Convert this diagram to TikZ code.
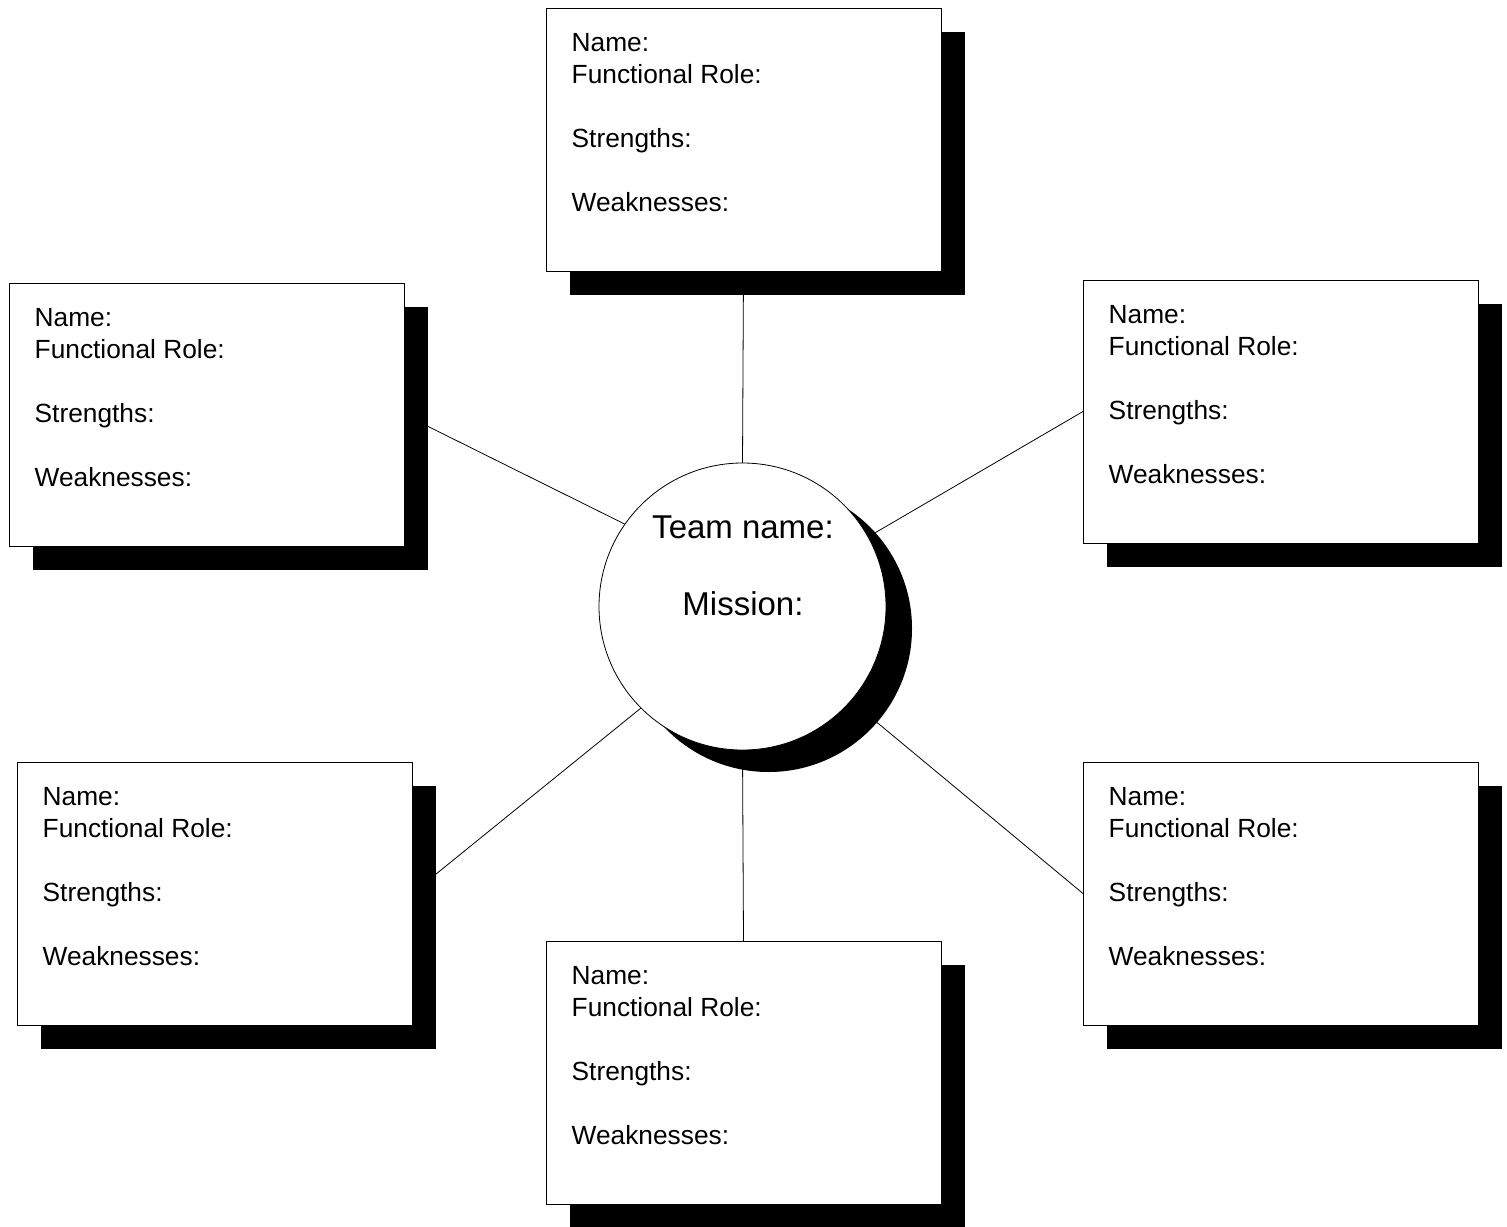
\documentclass[tikz,border=0pt]{standalone}
\usepackage{fontspec}
\setmainfont{Liberation Sans}
\usetikzlibrary{shadows,backgrounds}
\begin{document}
\begin{tikzpicture}[x=1pt,y=-1pt,
  card/.style={draw=black, line width=0.8pt, fill=white, minimum width=395pt,
    minimum height=263pt, inner sep=0pt, outer sep=0pt, anchor=north west,
    general shadow={fill=black, shadow xshift=24pt, shadow yshift=-24pt}},
  cardtext/.style={anchor=north west, inner sep=0pt, align=left,
    font=\fontsize{26.3}{32}\selectfont},
  hub/.style={circle, draw=black, line width=0.8pt, fill=white, minimum size=287pt,
    inner sep=0pt, outer sep=0pt,
    general shadow={fill=black, shadow xshift=26pt, shadow yshift=-22pt}},
  hubtext/.style={anchor=north, inner sep=0pt, align=center,
    font=\fontsize{33}{77}\selectfont},
  link/.style={draw=black, line width=0.8pt},
]
\useasboundingbox (0,0) rectangle (1507,1226);
\begin{scope}[on background layer]
  \fill[white] (0,0) rectangle (1507,1226);
\end{scope}

\newcommand\membercard[2]{%
  \node[card] (#1) at (#2) {};
  \node[cardtext] (#1text) at ([shift={(25.5,25.2)}]#1.north west)
    {Name:\\Functional Role:\\[32pt]Strengths:\\[32pt]Weaknesses:};
}

\membercard{T}{546,8}
\membercard{UL}{9,283}
\membercard{UR}{1083,280}
\membercard{LL}{17,762}
\membercard{LR}{1083,762}
\membercard{B}{546,941}

\node[hub] (C) at (742.5,606.5) {};
\node[hubtext] (Ctext) at (743,515.4) {Team name:\\Mission:};

\begin{scope}[on background layer]
  \draw[link] (T.south) -- (C.north);
  \draw[link] (UL.east) -- (C.145);
  \draw[link] (UR.west) -- (C.29);
  \draw[link] (LL.east) -- (C.225);
  \draw[link] (LR.west) -- (C.319);
  \draw[link] (B.north) -- (C.south);
\end{scope}
\end{tikzpicture}
\end{document}
